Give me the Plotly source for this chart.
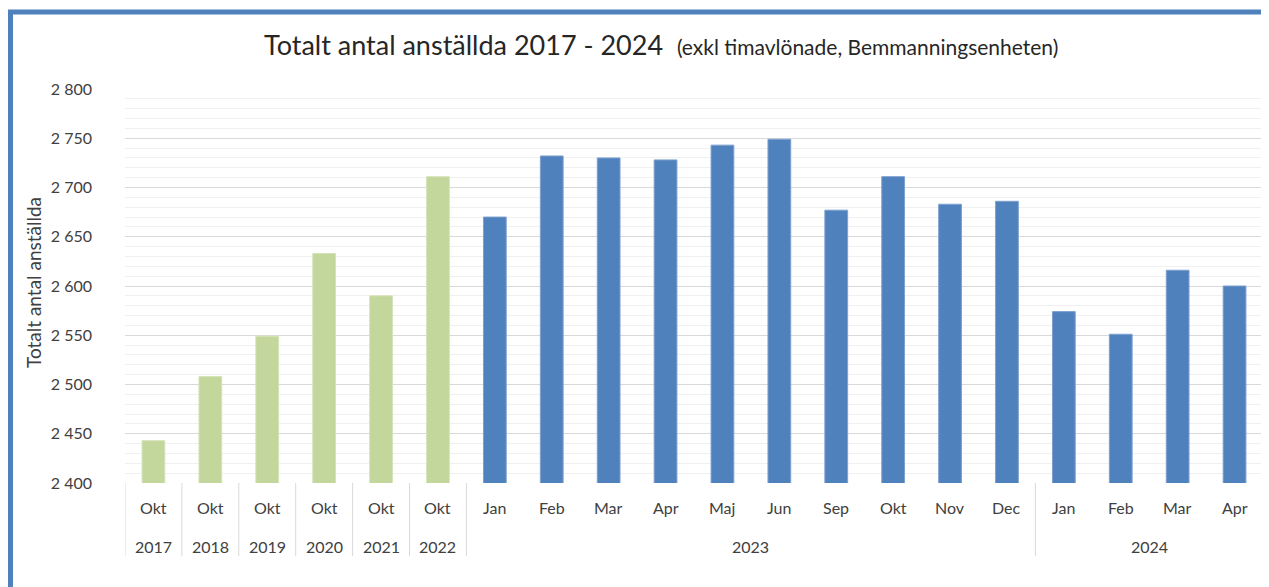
import plotly.graph_objects as go

# ---- data ----
months = ["Okt", "Okt", "Okt", "Okt", "Okt", "Okt",
          "Jan", "Feb", "Mar", "Apr", "Maj", "Jun", "Sep", "Okt", "Nov", "Dec",
          "Jan", "Feb", "Mar", "Apr"]
years = ["2017", "2018", "2019", "2020", "2021", "2022"] + ["2023"] * 10 + ["2024"] * 4
values = [2443, 2508, 2549, 2633, 2590, 2711,
          2670, 2732, 2730, 2728, 2743, 2749, 2677, 2711, 2683, 2686,
          2574, 2551, 2616, 2600]
annual_count = 6  # first six bars are October snapshots per year

title_main = "Totalt antal anställda 2017 - 2024"
title_sub = "(exkl timavlönade, Bemmanningsenheten)"
y_title = "Totalt antal anställda"

# ---- layout constants (page pixels; page body has an 8px margin) ----
OFF = 8
PAGE_W, PAGE_H = 1269, 587
W, H = PAGE_W - OFF, PAGE_H - OFF
PL, PR, PT, PB = 125, 1263, 89, 483  # plot area in page pixels
ML, MR, MT, MB = PL - OFF, W - (PR - OFF), PT - OFF, H - (PB - OFF)
PW, PH = PR - PL, PB - PT
GREEN = "#C3D69B"
BLUE = "#4F81BD"
FONT = "Lato, Open Sans, sans-serif"
TXT = "#404040"


def px_x(px):
    return (px - PL) / PW


def px_y(py):
    return (PB - py) / PH


idx = list(range(len(values)))
fig = go.Figure()
fig.add_trace(go.Bar(
    x=idx[:annual_count], y=values[:annual_count],
    marker=dict(color=GREEN, line=dict(color="#d5e3b8", width=1)),
    width=0.4, name="Oktober"))
fig.add_trace(go.Bar(
    x=idx[annual_count:], y=values[annual_count:],
    marker=dict(color=BLUE, line=dict(color="#7da0cf", width=1)),
    width=0.4, name="Månad"))

annotations = []
for i, m in enumerate(months):
    annotations.append(dict(x=i, y=px_y(507), xref="x", yref="paper", text=m,
                            showarrow=False, xanchor="center", yanchor="middle",
                            font=dict(family=FONT, size=16, color=TXT)))
groups = []
for i, yv in enumerate(years):
    if groups and groups[-1][0] == yv:
        groups[-1][2] = i
    else:
        groups.append([yv, i, i])
for yv, s, e in groups:
    annotations.append(dict(x=(s + e) / 2, y=px_y(546), xref="x", yref="paper", text=yv,
                            showarrow=False, xanchor="center", yanchor="middle",
                            font=dict(family=FONT, size=16, color=TXT)))

annotations.append(dict(
    x=px_x(661), y=px_y(44), xref="paper", yref="paper", showarrow=False,
    xanchor="center", yanchor="middle",
    text=f"{title_main}  <span style='font-size:21px'>{title_sub}</span>",
    font=dict(family=FONT, size=27, color="#262626")))
annotations.append(dict(
    x=px_x(33), y=px_y(283), xref="paper", yref="paper", showarrow=False,
    xanchor="center", yanchor="middle", textangle=-90, text=y_title,
    font=dict(family=FONT, size=19, color=TXT)))

shapes = []
bounds = set([-0.5, len(values) - 0.5])
for yv, s, e in groups:
    bounds.add(s - 0.5)
    bounds.add(e + 0.5)
for b in sorted(bounds):
    shapes.append(dict(type="line", xref="x", yref="paper", x0=b, x1=b,
                       y0=0, y1=px_y(556), line=dict(color="#d9d9d9", width=1)))
# frame
shapes.append(dict(type="line", xref="paper", yref="paper",
                   x0=px_x(8), x1=px_x(PAGE_W + 2), y0=px_y(12), y1=px_y(12),
                   line=dict(color=BLUE, width=5)))
shapes.append(dict(type="line", xref="paper", yref="paper",
                   x0=px_x(10.5), x1=px_x(10.5), y0=px_y(10), y1=px_y(PAGE_H + 2),
                   line=dict(color=BLUE, width=5)))

fig.update_layout(
    width=W, height=H,
    margin=dict(l=ML, r=MR, t=MT, b=MB, pad=0),
    paper_bgcolor="white", plot_bgcolor="white",
    showlegend=False, bargap=0.6,
    separators=", ",
    annotations=annotations, shapes=shapes,
    xaxis=dict(range=[-0.5, len(values) - 0.5], showticklabels=False,
               showgrid=False, zeroline=False, showline=False, ticks=""),
    yaxis=dict(range=[2400, 2800], dtick=50, tickformat=",d",
               showgrid=True, gridcolor="#d9d9d9", gridwidth=1,
               minor=dict(dtick=10, showgrid=True, gridcolor="#f0f0f0", gridwidth=1),
               zeroline=False, showline=False, ticks="",
               ticklabelstandoff=32,
               tickfont=dict(family=FONT, size=16, color=TXT)),
)

fig.write_html("out.html")
